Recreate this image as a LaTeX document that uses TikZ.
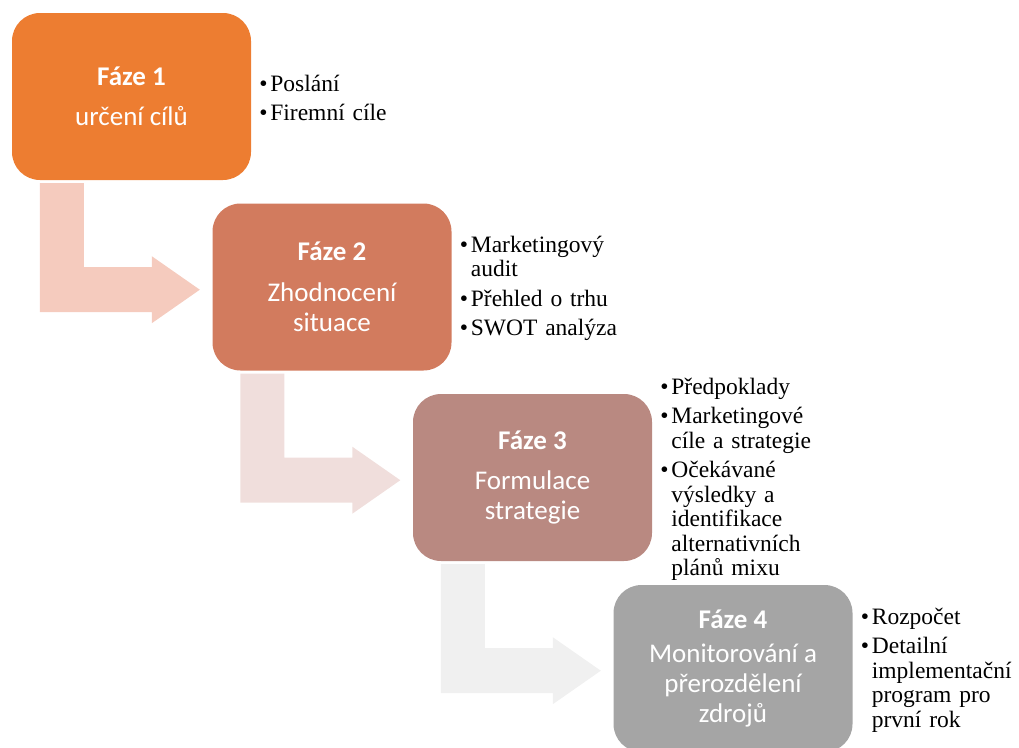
\documentclass[tikz,border=0pt]{standalone}
\usepackage{fontspec}
\setmainfont{Liberation Serif}
\newfontfamily\calibri{Carlito}
\usetikzlibrary{calc, positioning}
\definecolor{faze1}{HTML}{ED7D31}
\definecolor{faze2}{HTML}{D27B5E}
\definecolor{faze3}{HTML}{B98981}
\definecolor{faze4}{HTML}{A5A5A5}
\definecolor{sipka1}{HTML}{F5CBBE}
\definecolor{sipka2}{HTML}{F0DEDC}
\definecolor{sipka3}{HTML}{F0F0F0}
% one bullet item, hanging indent
\newcommand\bod[1]{\par\hangindent=11pt\hangafter=1\noindent\makebox[11pt][l]{\textbullet}#1\par}
\tikzset{
  phase/.style={rounded corners=28pt, minimum width=239pt, minimum height=167pt, inner sep=0pt,
    text=white, align=center, font=\calibri\fontsize{27}{30}\selectfont},
  bullets/.style={right=8pt of #1, yshift=5pt, text width=175pt, inner sep=0pt, align=left,
    font=\fontsize{23.5}{24.5}\selectfont, execute at begin node={\setlength{\parskip}{5pt}}},
  % bent block arrow, origin at the lower left corner of a phase
  bentarrow/.pic={
    \fill[pic actions] (28,3) -- (72,3) -- (72,87) -- (140,87) -- (140,76) -- (188,109.5)
      -- (140,143) -- (140,132) -- (28,132) -- cycle;
  },
}

\begin{document}
\begin{tikzpicture}[x=1pt, y=-1pt]
  \useasboundingbox (0,0) rectangle (1019,747);
  \clip (0,0) rectangle (1019,747);
  % ---- phases
  \node[phase, fill=faze1] (f1) at (131.5,96.5) {\textbf{Fáze 1}\\[10pt]určení cílů};
  \node[phase, fill=faze2] (f2) at ($(f1)+(200.5,190.5)$) {\textbf{Fáze 2}\\[11pt]Zhodnocení\\situace};
  \node[phase, fill=faze3] (f3) at ($(f2)+(200.5,190.5)$) {\textbf{Fáze 3}\\[10pt]Formulace\\strategie};
  \node[phase, fill=faze4] (f4) at ($(f3)+(200.5,191)$) {\textbf{Fáze 4}\\[4pt]Monitorování a\\přerozdělení\\zdrojů};
  % ---- arrows from one phase to the next
  \pic[fill=sipka1] at (f1.south west) {bentarrow};
  \pic[fill=sipka2] at (f2.south west) {bentarrow};
  \pic[fill=sipka3] at (f3.south west) {bentarrow};
  % ---- bullet lists
  \node[bullets=f1] (b1) {\bod{Poslání}\bod{Firemní cíle}};
  \node[bullets=f2] (b2) {\bod{Marketingový\newline audit}\bod{Přehled o trhu}\bod{SWOT analýza}};
  \node[bullets=f3] (b3) {\bod{Předpoklady}\bod{Marketingové\newline cíle a strategie}%
    \bod{Očekávané\newline výsledky a\newline identifikace\newline alternativních\newline plánů mixu}};
  \node[bullets=f4] (b4) {\bod{Rozpočet}\bod{Detailní\newline implementační\newline program pro\newline první rok}};
\end{tikzpicture}
\end{document}
